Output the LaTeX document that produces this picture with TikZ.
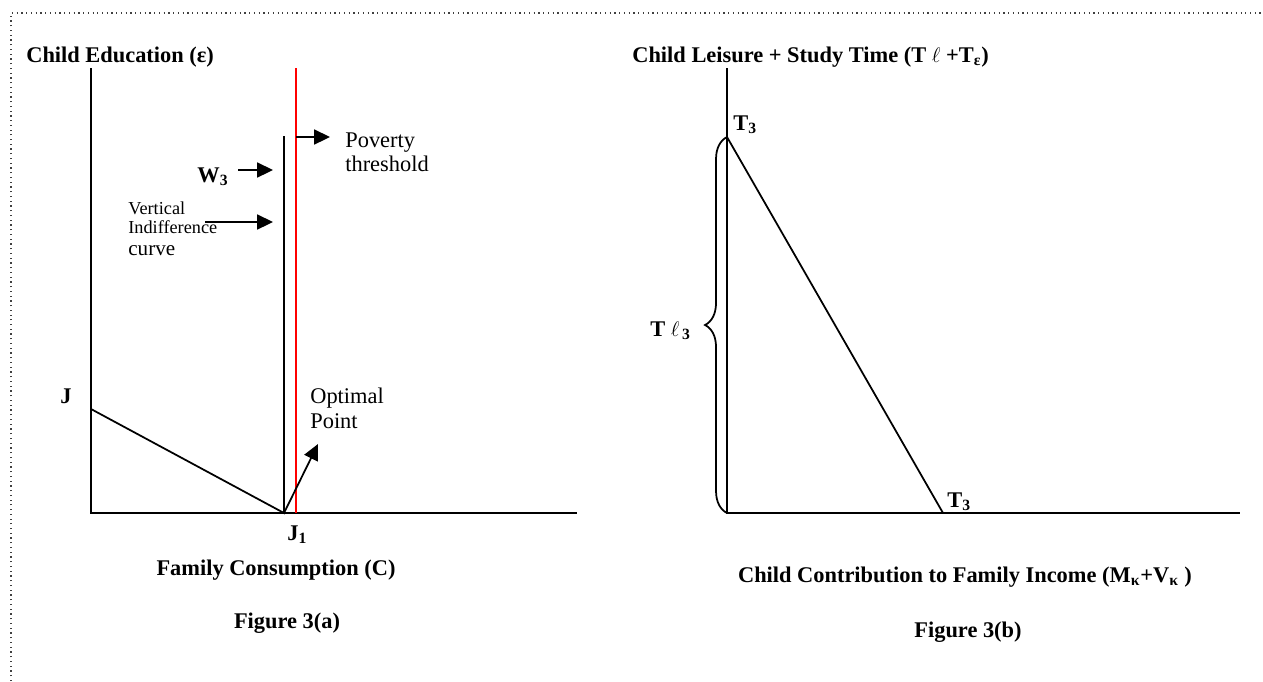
\documentclass[tikz,border=0pt]{standalone}
\usepackage{fontspec}
\setmainfont{Liberation Serif}
\usetikzlibrary{arrows.meta, positioning, decorations.pathreplacing}

\begin{document}
\begin{tikzpicture}[x=0.02cm, y=-0.02cm,
  every node/.style={inner sep=0pt},
  axis/.style={line width=1pt},
  ptr/.style={line width=1pt, -{Triangle[length=9pt, width=8.5pt]}},
  lbl/.style={font=\fontsize{12.75}{13.6}\selectfont\bfseries},
  note/.style={font=\fontsize{12.75}{13.9}\selectfont, align=left}]
  \useasboundingbox (0,0) rectangle (1263,681);
  % dotted frame (only top and left edges show)
  \draw[dotted, line width=0.7pt, black!75] (11,681) -- (11,13) -- (1263,13);

  % Figure 3(a)
  \coordinate (oa) at (91,513);
  \coordinate (ya) at (91,68);
  \coordinate (xa) at (577,513);
  \coordinate (ja) at (91,409);
  \coordinate (jb) at (284,513);
  \coordinate (ic) at (284,136);
  \coordinate (pt) at (296,68);
  \coordinate (pb) at (296,513);
  \coordinate (wa) at (238,170);
  \coordinate (wb) at (273,170);
  \coordinate (va) at (205,222);
  \coordinate (vb) at (273,222);
  \coordinate (pa) at (296,137);
  \coordinate (pv) at (330,137);
  \coordinate (oq) at (318,444);
  \draw[axis] (ya) -- (oa) -- (xa);
  \draw[axis] (ja) -- (jb) -- (ic);
  \draw[red, line width=1pt] (pt) -- (pb);
  \draw[ptr] (wa) -- (wb);
  \draw[ptr] (va) -- (vb);
  \draw[ptr] (pa) -- (pv);
  \draw[ptr] (jb) -- (oq);
  \node[lbl, anchor=base west] (ttla) at (26,62) {Child Education (ε)};
  \node[lbl, anchor=base west] (jlab) at (60,403) {J};
  \node[lbl, anchor=base west] (j1lab) at (287,540) {J\textsubscript{1}};
  \node[lbl, anchor=base west] (wlab) at (197,182) {W\textsubscript{3}};
  \node[note, anchor=north west] (pov) at (345,132) {Poverty\\threshold};
  \node[note, anchor=north west] (opt) at (310,388) {Optimal\\Point};
  \node[note, font=\fontsize{10.4}{11.3}\selectfont, anchor=north west] (vic) at (128,201)
    {Vertical\\Indifference\\[1pt]{\fontsize{12}{13}\selectfont curve}};
  \node[lbl, anchor=base] (xla) at (276,575) {Family Consumption (C)};
  \node[lbl, anchor=base] (figa) at (287,628) {Figure 3(a)};

  % Figure 3(b)
  \coordinate (ob) at (727,513);
  \coordinate (yb) at (727,68);
  \coordinate (xb) at (1240,513);
  \coordinate (ta) at (727,137);
  \coordinate (tb) at (943,513);
  \draw[axis] (yb) -- (ob) -- (xb);
  \draw[axis] (ta) -- (tb);
  \draw[line width=1pt, decorate, decoration={brace, amplitude=12.5pt}] (ob) -- (ta);
  \node[lbl, anchor=base west] (ttlb) at (632,62) {Child Leisure + Study Time (T $\ell$ +T\textsubscript{ε})};
  \node[lbl, anchor=base west] (t3a) at (733,130) {T\textsubscript{3}};
  \node[lbl, anchor=base west] (t3b) at (947,507) {T\textsubscript{3}};
  \node[lbl, anchor=base west] (tl3) at (650,336) {T $\ell$\textsubscript{\,3}};
  \node[lbl, anchor=base] (xlb) at (965,582) {Child Contribution to Family Income (M\textsubscript{κ}+V\textsubscript{κ} )};
  \node[lbl, anchor=base] (figb) at (968,637) {Figure 3(b)};
\end{tikzpicture}
\end{document}
